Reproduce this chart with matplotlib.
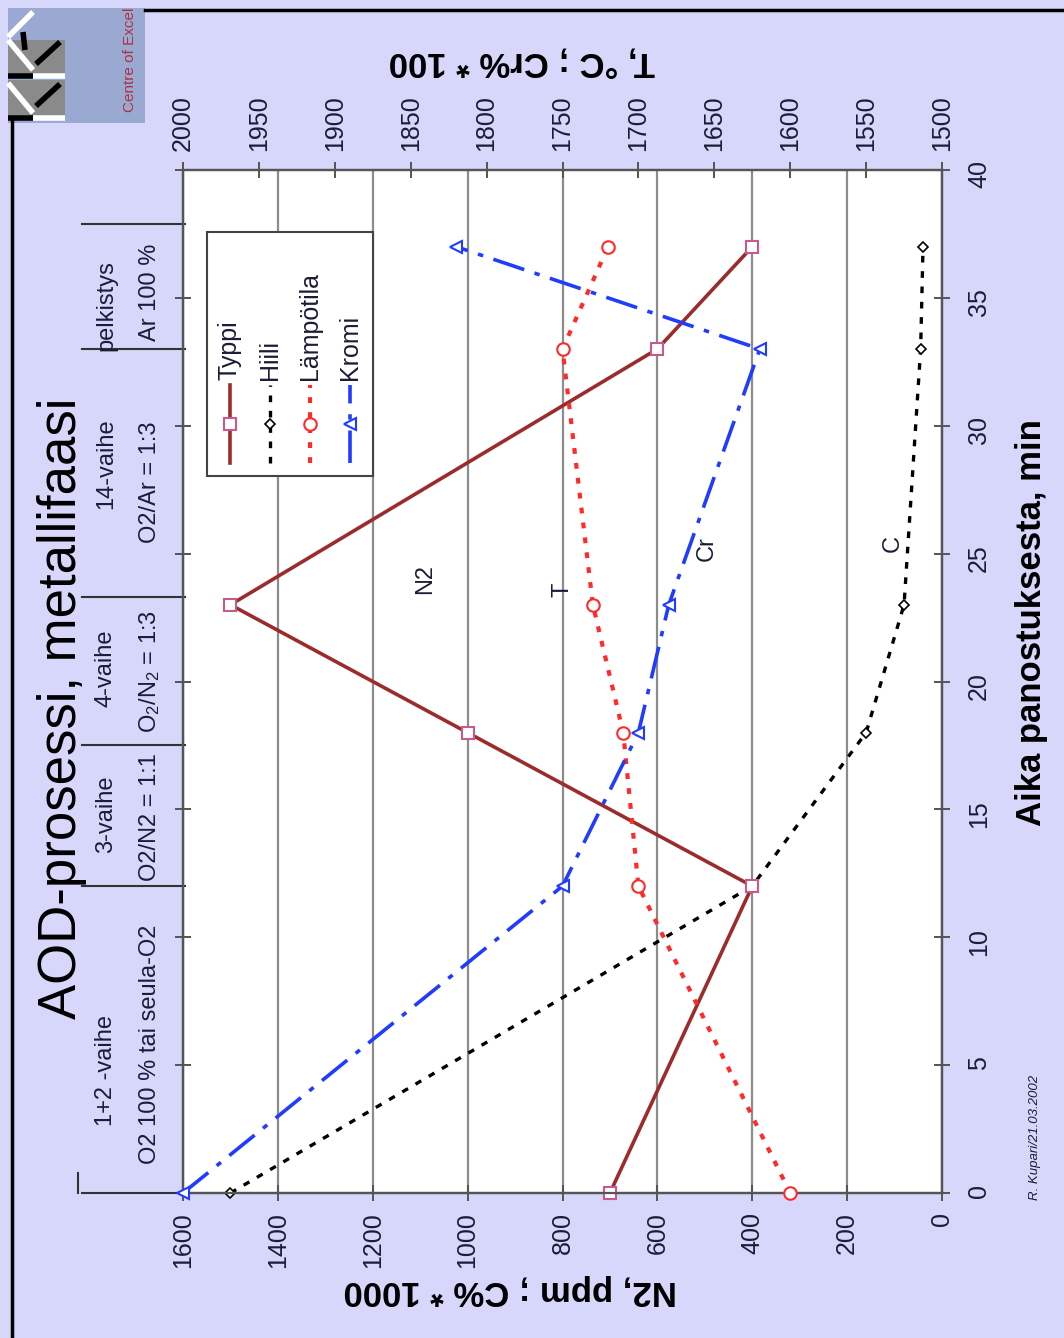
import matplotlib
matplotlib.use("Agg")
import matplotlib.pyplot as plt
from matplotlib.lines import Line2D
from matplotlib.patches import Rectangle
from matplotlib import transforms

W, H = 1064, 1338

# data (time in min)
time_min = [0, 12, 18, 23, 33, 37]
typpi = [700, 400, 1000, 1500, 600, 400]         # N2, ppm
hiili = [1500, 400, 160, 80, 45, 40]             # C% * 1000
lampotila = [1600, 1700, 1710, 1730, 1750, 1720]  # T, C
kromi = [2000, 1750, 1700, 1680, 1620, 1820]     # Cr% * 100

n2_ticks = [0, 200, 400, 600, 800, 1000, 1200, 1400, 1600]
t_ticks = [1500, 1550, 1600, 1650, 1700, 1750, 1800, 1850, 1900, 1950, 2000]
time_ticks = [0, 5, 10, 15, 20, 25, 30, 35, 40]

phase_bounds = [0, 12, 17.5, 23.3, 33, 37.9]
phase_top = ["1+2 -vaihe", "3-vaihe", "4-vaihe", "14-vaihe", "pelkistys"]
phase_bottom = ["O2 100 % tai seula-O2", "O2/N2 = 1:1", "O$_2$/N$_2$ = 1:3",
                "O2/Ar = 1:3", "Ar 100 %"]
phase_top_t = [4.8, 14.8, 20.5, 28.5, 34.7]
phase_bottom_t = [5.8, 14.7, 20.4, 27.8, 35.2]

BG = "#d6d7fa"
TXT = "#1c1c36"

plt.rcParams['font.family'] = ['Liberation Sans', 'DejaVu Sans']
plt.rcParams['mathtext.fontset'] = 'custom'
plt.rcParams['mathtext.rm'] = 'Liberation Sans'
plt.rcParams['mathtext.it'] = 'Liberation Sans:italic'


def P(x, y):
   return x / W, 1 - y / H


fig = plt.figure(figsize=(W / 100, H / 100), dpi=100, facecolor=BG)
ax = fig.add_axes([183 / W, 1 - 1193 / H, (942 - 183) / W, (1193 - 170) / H])
ax.set_facecolor("white")
ax2 = ax.twiny()

s_typpi = dict(color="#9c2b2b", lw=2.6, ls="-", marker="s", ms=8.5,
               mfc="white", mec="#c75a8c", mew=1.5)
s_hiili = dict(color="black", lw=2.4, ls=(0, (2, 2.6)), marker="D", ms=5,
               mfc="white", mec="black", mew=1.2)
s_lampo = dict(color="#ff2a2a", lw=3, ls=(0, (1.4, 2.2)), marker="o", ms=9,
               mfc="white", mec="#ff2a2a", mew=1.5)
s_kromi = dict(color="#1f3cff", lw=2.6, ls=(0, (9, 3, 1.5, 3)), marker="<", ms=8,
               mfc="white", mec="#1f3cff", mew=1.5)

ax.plot(typpi, time_min, clip_on=False, zorder=5, **s_typpi)
ax.plot(hiili, time_min, clip_on=False, zorder=4, **s_hiili)
ax2.plot(lampotila, time_min, clip_on=False, zorder=4, **s_lampo)
ax2.plot(kromi, time_min, clip_on=False, zorder=4, **s_kromi)

ax.set_xlim(1600, 0)
ax.set_ylim(0, 40)
ax2.set_xlim(2000, 1500)
ax.set_xticks(n2_ticks)
ax.set_yticks(time_ticks)
ax2.set_xticks(t_ticks)
ax.grid(axis="x", color="#8c8c8c", lw=1.6)
ax.set_axisbelow(True)

for a in (ax, ax2):
   for sp in a.spines.values():
      sp.set_color("#555555")
      sp.set_linewidth(1.6)
ax.tick_params(axis="x", direction="inout", length=12, width=1.4, color="#555555",
               labelrotation=90, labelsize=18, labelcolor=TXT, pad=8)
ax.tick_params(axis="y", direction="inout", length=12, width=1.4, color="#555555",
               left=True, right=True, labelleft=False, labelright=True,
               labelrotation=90, labelsize=18, labelcolor=TXT, pad=12)
ax2.tick_params(axis="x", direction="inout", length=12, width=1.4, color="#555555",
                labelrotation=90, labelsize=18, labelcolor=TXT, pad=8)

# manual legend, rotated like the rest of the chart
fig.add_artist(Rectangle(P(207, 476), 166 / W, 244 / H, transform=fig.transFigure,
                         facecolor="white", edgecolor="#444444", lw=1.5, zorder=6))
for xl, name, st in zip([230, 270, 310, 350], ["Typpi", "Hiili", "Lämpötila", "Kromi"],
                        [s_typpi, s_hiili, s_lampo, s_kromi]):
   line_st = {k: v for k, v in st.items() if k in ("color", "lw", "ls")}
   mark_st = {k: v for k, v in st.items() if k in ("marker", "ms", "mfc", "mec", "mew")}
   x0, y0 = P(xl, 463)
   x1, y1 = P(xl, 385)
   fig.add_artist(Line2D([x0, x1], [y0, y1], transform=fig.transFigure, zorder=7, **line_st))
   xm, ym = P(xl, 424)
   fig.add_artist(Line2D([xm], [ym], transform=fig.transFigure, ls="none", zorder=8, **mark_st))
   fig.text(*P(xl, 380), name, rotation=90, ha="center", va="bottom", fontsize=18,
            color=TXT, zorder=8)

# series labels inside the plot
ax.text(1090, 24, "N2", rotation=90, ha="center", va="center", fontsize=17, color=TXT)
ax.text(799, 23.6, "T", rotation=90, ha="center", va="center", fontsize=17, color=TXT)
ax.text(495, 25.2, "Cr", rotation=90, ha="center", va="center", fontsize=17, color=TXT)
ax.text(103, 25.4, "C", rotation=90, ha="center", va="center", fontsize=17, color=TXT)

# phase header on the left
bt = transforms.blended_transform_factory(fig.transFigure, ax.transData)
for tb in phase_bounds:
   ax.add_artist(Line2D([82 / W, 185 / W], [tb, tb], transform=bt, color="#333333",
                        lw=1.5, clip_on=False))
ax.add_artist(Line2D([78 / W, 78 / W], [0, 0.8], transform=bt, color="#333333",
                     lw=1.5, clip_on=False))
for s, t in zip(phase_top, phase_top_t):
   ax.text(106 / W, t, s, transform=bt, rotation=90, ha="center", va="center",
           fontsize=17, color=TXT, clip_on=False)
for s, t in zip(phase_bottom, phase_bottom_t):
   ax.text(150 / W, t, s, transform=bt, rotation=90, ha="center", va="center",
           fontsize=17, color=TXT, clip_on=False)

# titles and axis names
fig.text(*P(62, 708), "AOD-prosessi, metallifaasi", rotation=90, ha="center",
         va="center", fontsize=38, color="black")
fig.text(*P(1031, 623), "Aika panostuksesta, min", rotation=90, ha="center",
         va="center", fontsize=25, fontweight="bold", color="black")
fig.text(*P(510, 1290), "N2, ppm ; C% * 1000", rotation=180, ha="center",
         va="center", fontsize=25, fontweight="bold", color="black")
fig.text(*P(522, 62), "T, °C ; Cr% * 100", rotation=180, ha="center",
         va="center", fontsize=25, fontweight="bold", color="black")
fig.text(*P(1035, 1137), "R. Kupari/21.03.2002", rotation=90, ha="center",
         va="center", fontsize=9.5, style="italic", color=TXT)

# frame lines and logo in the top-left corner
fig.add_artist(Line2D([12 / W, 12 / W], [1 - 120 / H, 0], transform=fig.transFigure,
                      color="black", lw=2.5))
fig.add_artist(Line2D([145 / W, 1], [1 - 10 / H, 1 - 10 / H], transform=fig.transFigure,
                      color="black", lw=2.5))
fig.add_artist(Rectangle(P(8, 123), 137 / W, 115 / H, transform=fig.transFigure,
                         facecolor="#9aa9d2", edgecolor="none"))
for y_top in (40, 80):
   fig.add_artist(Rectangle(P(8, y_top + 38), 57 / W, 38 / H, transform=fig.transFigure,
                            facecolor="#8a8a8a", edgecolor="none"))
logo_strokes = [
   ((33, 12), (8, 37), "white"), ((23, 32), (25, 50), "black"),
   ((8, 40), (33, 70), "white"), ((36, 64), (60, 42), "black"),
   ((33, 76), (65, 76), "white"), ((8, 76), (33, 76), "black"),
   ((8, 83), (33, 113), "white"), ((36, 106), (60, 84), "black"),
   ((33, 118), (65, 118), "white"), ((8, 118), (33, 118), "black"),
]
for (xa, ya), (xb, yb), c in logo_strokes:
   pa, pb = P(xa, ya), P(xb, yb)
   fig.add_artist(Line2D([pa[0], pb[0]], [pa[1], pb[1]], transform=fig.transFigure,
                         color=c, lw=4, solid_capstyle="butt"))
fig.text(*P(130, 112), "Centre of Excel", rotation=90, ha="center", va="bottom",
         fontsize=11, color="#b03040")

fig.savefig("out.png", dpi=100, facecolor=BG)
